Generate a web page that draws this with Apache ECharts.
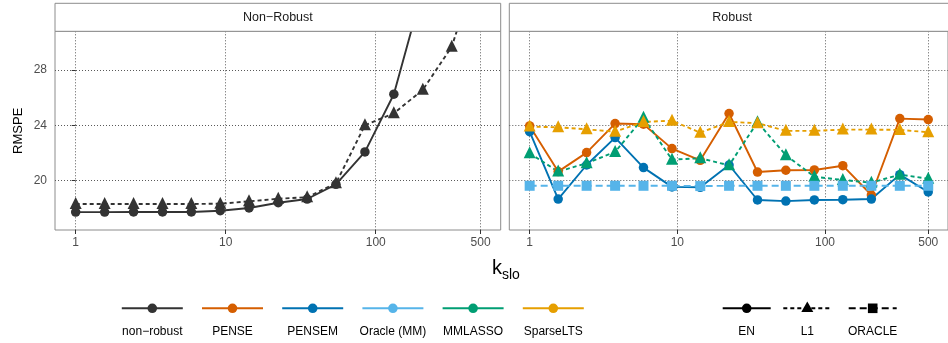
<!DOCTYPE html>
<html>
<head>
<meta charset="utf-8">
<script src="https://cdn.jsdelivr.net/npm/echarts@6/dist/echarts.min.js"></script>
<style>
  html, body { margin: 0; padding: 0; background: #ffffff; }
  #chart { width: 948px; height: 343px; }
</style>
</head>
<body>
<div id="chart"></div>
<script>
// ---- data -------------------------------------------------------------
const kslo = [1, 1.56, 2.43, 3.79, 5.9, 9.2, 14.3, 22.4, 34.9, 54.3, 84.7, 132, 206, 321, 500];
const xTicks = [1, 10, 100, 500];
const yTicks = [20, 24, 28];
const panelTitles = ['Non\u2212Robust', 'Robust'];

// Non-robust panel (EN and L1 penalties)
const nonRobustEN = [17.69, 17.69, 17.70, 17.70, 17.70, 17.79, 17.99, 18.37, 18.64, 19.71, 22.06, 26.25, 33.9, 42.0, 52.0];
const nonRobustL1 = [18.28, 18.28, 18.28, 18.28, 18.28, 18.30, 18.47, 18.66, 18.77, 19.78, 24.00, 24.87, 26.57, 29.70, 36.2];

// Robust panel
const penseEN    = [23.95, 20.63, 22.01, 24.12, 24.07, 22.30, 21.45, 24.85, 20.60, 20.73, 20.75, 21.06, 18.93, 24.48, 24.41];
const pensemEN   = [23.53, 18.64, 21.11, 23.10, 20.92, 19.52, 19.49, 21.11, 18.57, 18.49, 18.57, 18.59, 18.64, 20.41, 19.15];
const mmlassoL1  = [21.96, 20.63, 21.24, 22.06, 24.55, 21.50, 21.60, 21.09, 24.22, 21.82, 20.26, 20.02, 19.83, 20.41, 20.12];
const sparseLtsL1 = [23.90, 23.85, 23.70, 23.53, 24.24, 24.33, 23.46, 24.24, 24.15, 23.59, 23.59, 23.68, 23.68, 23.66, 23.49];
const oracleMM   = [19.60, 19.60, 19.60, 19.60, 19.60, 19.60, 19.58, 19.60, 19.60, 19.60, 19.60, 19.60, 19.60, 19.60, 19.60];

// legend entries
const methodNames = ['non\u2212robust', 'PENSE', 'PENSEM', 'Oracle (MM)', 'MMLASSO', 'SparseLTS'];
const penaltyNames = ['EN', 'L1', 'ORACLE'];

// ---- styling ----------------------------------------------------------
const FONT = '"Liberation Sans", Arial, Helvetica, sans-serif';
const COLORS = {
  nonrobust: '#333333', pense: '#D55E00', pensem: '#0072B2',
  oracle: '#56B4E9', mmlasso: '#009E73', sparselts: '#E69F00'
};
const methodColors = [COLORS.nonrobust, COLORS.pense, COLORS.pensem, COLORS.oracle, COLORS.mmlasso, COLORS.sparselts];
const LINE = { EN: 'solid', L1: [4, 3], ORACLE: [7, 4] };
const SYMBOL = { EN: 'circle', L1: 'triangle', ORACLE: 'rect' };
const SYMSIZE = { EN: 9.5, L1: 12, ORACLE: 10 };
const BORDER = '#8c8c8c';

const toPoints = vals => kslo.map((k, i) => [Math.log10(k), vals[i]]);

function series(name, gridIndex, vals, color, penalty) {
  return {
    type: 'line',
    name: name,
    xAxisIndex: gridIndex,
    yAxisIndex: gridIndex,
    data: toPoints(vals),
    clip: true,
    symbol: SYMBOL[penalty],
    symbolSize: SYMSIZE[penalty],
    symbolOffset: penalty === 'L1' ? [0, -1] : [0, 0],
    showSymbol: true,
    showAllSymbol: true,
    itemStyle: { color: color, borderWidth: 0 },
    lineStyle: { color: color, width: 1.9, type: LINE[penalty] },
    emphasis: { disabled: true },
    silent: true,
    animation: false
  };
}

// ---- layout -----------------------------------------------------------
const panelTop = 31.3, panelH = 198.7, panelW = 445.7;
const panelLeft = [55, 509.3];
const stripTop = 3.3;
const xMin = Math.log10(0.728), xMax = Math.log10(680.5);
const yMin = 16.39, yMax = 30.82;

function xAxis(gridIndex) {
  const tickVals = xTicks.map(v => Math.log10(v));
  return {
    type: 'value', gridIndex: gridIndex, min: xMin, max: xMax,
    axisLine: { show: false },
    axisTick: { show: true, length: 4, customValues: tickVals, lineStyle: { color: '#333333', width: 1 } },
    axisLabel: {
      show: true, customValues: tickVals, margin: 7,
      color: '#4d4d4d', fontFamily: FONT, fontSize: 12,
      formatter: v => String(Math.round(Math.pow(10, v)))
    },
    splitLine: { show: true, lineStyle: { color: '#5a5a5a', width: 1, type: [1, 2] } }
  };
}
function yAxis(gridIndex) {
  return {
    type: 'value', gridIndex: gridIndex, min: yMin, max: yMax,
    axisLine: { show: false },
    axisTick: { show: gridIndex === 0, length: 4, customValues: yTicks, lineStyle: { color: '#333333', width: 1 } },
    axisLabel: {
      show: gridIndex === 0, customValues: yTicks, margin: 8,
      color: '#4d4d4d', fontFamily: FONT, fontSize: 12
    },
    splitLine: { show: true, lineStyle: { color: '#5a5a5a', width: 1, type: [1, 2] } }
  };
}

// ---- graphic: strips, axis titles, legend -------------------------------
const graphics = [];
panelTitles.forEach((t, i) => {
  graphics.push({
    type: 'rect', z: 10,
    shape: { x: panelLeft[i], y: stripTop, width: panelW, height: panelTop - stripTop },
    style: { fill: '#ffffff', stroke: BORDER, lineWidth: 1 }
  });
  graphics.push({
    type: 'text', z: 11, x: panelLeft[i] + panelW / 2, y: 17.5,
    style: { text: t, fill: '#1a1a1a', font: '12.5px ' + FONT, textAlign: 'center', textVerticalAlign: 'middle' }
  });
});
graphics.push({
  type: 'text', z: 11, x: 18, y: 130.8, rotation: Math.PI / 2,
  style: { text: 'RMSPE', fill: '#000000', font: '13px ' + FONT, textAlign: 'center', textVerticalAlign: 'middle' }
});
graphics.push({
  type: 'text', z: 11, x: 492, y: 268,
  style: { text: 'k', fill: '#000000', font: '20px ' + FONT, textAlign: 'left', textVerticalAlign: 'middle' }
});
graphics.push({
  type: 'text', z: 11, x: 502, y: 275,
  style: { text: 'slo', fill: '#000000', font: '14px ' + FONT, textAlign: 'left', textVerticalAlign: 'middle' }
});

const keyY = 308.3, labelY = 331.5;
// colour legend
methodNames.forEach((name, i) => {
  const cx = 152.3 + i * 80.2;
  const c = methodColors[i];
  graphics.push({ type: 'line', z: 11, shape: { x1: cx - 30.5, y1: keyY, x2: cx + 30.5, y2: keyY }, style: { stroke: c, lineWidth: 2 } });
  graphics.push({ type: 'circle', z: 12, shape: { cx: cx, cy: keyY, r: 4.8 }, style: { fill: c } });
  graphics.push({
    type: 'text', z: 11, x: cx, y: labelY,
    style: { text: name, fill: '#000000', font: '12px ' + FONT, textAlign: 'center', textVerticalAlign: 'middle' }
  });
});
// penalty legend
const penaltyCenters = [746.7, 807.3, 872.7];
penaltyNames.forEach((name, i) => {
  const cx = penaltyCenters[i];
  graphics.push({
    type: 'line', z: 11,
    shape: { x1: cx - 24, y1: keyY, x2: cx + 24, y2: keyY },
    style: { stroke: '#000000', lineWidth: 2, lineDash: LINE[name] === 'solid' ? null : LINE[name] }
  });
  if (name === 'EN') {
    graphics.push({ type: 'circle', z: 12, shape: { cx: cx, cy: keyY, r: 4.8 }, style: { fill: '#000000' } });
  } else if (name === 'L1') {
    graphics.push({ type: 'polygon', z: 12, shape: { points: [[cx, keyY - 6.8], [cx + 6, keyY + 3.6], [cx - 6, keyY + 3.6]] }, style: { fill: '#000000' } });
  } else {
    graphics.push({ type: 'rect', z: 12, shape: { x: cx - 4.8, y: keyY - 4.8, width: 9.6, height: 9.6 }, style: { fill: '#000000' } });
  }
  graphics.push({
    type: 'text', z: 11, x: cx, y: labelY,
    style: { text: name, fill: '#000000', font: '12px ' + FONT, textAlign: 'center', textVerticalAlign: 'middle' }
  });
});

// ---- chart ------------------------------------------------------------
const chart = echarts.init(document.getElementById('chart'), null, { renderer: 'canvas' });
chart.setOption({
  animation: false,
  backgroundColor: '#ffffff',
  textStyle: { fontFamily: FONT },
  grid: panelLeft.map(l => ({
    left: l, top: panelTop, width: panelW, height: panelH,
    show: true, backgroundColor: '#ffffff', borderColor: BORDER, borderWidth: 1,
    containLabel: false
  })),
  xAxis: [xAxis(0), xAxis(1)],
  yAxis: [yAxis(0), yAxis(1)],
  series: [
    series('non-robust', 0, nonRobustEN, COLORS.nonrobust, 'EN'),
    series('non-robust L1', 0, nonRobustL1, COLORS.nonrobust, 'L1'),
    series('PENSE', 1, penseEN, COLORS.pense, 'EN'),
    series('PENSEM', 1, pensemEN, COLORS.pensem, 'EN'),
    series('MMLASSO', 1, mmlassoL1, COLORS.mmlasso, 'L1'),
    series('SparseLTS', 1, sparseLtsL1, COLORS.sparselts, 'L1'),
    series('Oracle (MM)', 1, oracleMM, COLORS.oracle, 'ORACLE')
  ],
  graphic: graphics
});
</script>
</body>
</html>
